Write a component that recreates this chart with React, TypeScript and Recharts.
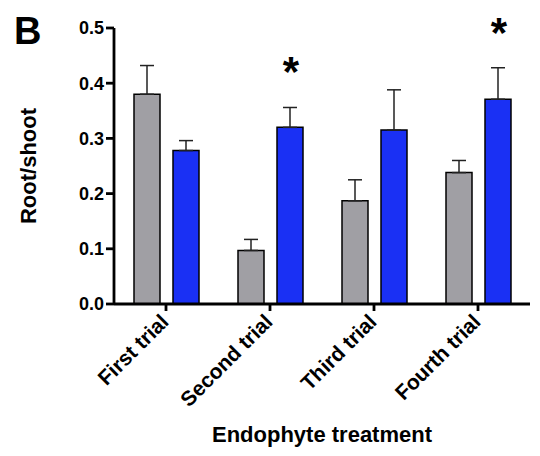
import { BarChart, Bar, XAxis, YAxis, ErrorBar, LabelList } from "recharts";

const trials = ["First trial", "Second trial", "Third trial", "Fourth trial"];
const controlMean = [0.38, 0.097, 0.187, 0.238];
const controlSem = [0.052, 0.02, 0.038, 0.022];
const endophyteMean = [0.278, 0.32, 0.315, 0.371];
const endophyteSem = [0.018, 0.036, 0.073, 0.057];
const significance = ["", "*", "", "*"];
const yTicks = [0, 0.1, 0.2, 0.3, 0.4, 0.5];

const data = trials.map((t, i) => ({
  trial: t,
  control: controlMean[i],
  controlErr: [0, controlSem[i]],
  endophyte: endophyteMean[i],
  endophyteErr: [0, endophyteSem[i]],
  star: significance[i],
}));

const FONT = "'Liberation Sans', Arial, sans-serif";

const XTick = ({ x, y, payload }: any) => (
  <g transform={`translate(${x + 4},${y + 10}) rotate(-45)`}>
    <text
      x={0}
      y={0}
      textAnchor="end"
      fontFamily={FONT}
      fontWeight="bold"
      fontSize={21}
      fill="#000"
    >
      {payload.value}
    </text>
  </g>
);

// star sits a bit above the top of the error bar
const StarLabel = (props: any) => {
  const { x, y, width, height, index } = props;
  const mark = significance[index];
  if (!mark) return null;
  const pxPerUnit = height / endophyteMean[index];
  const top = y - endophyteSem[index] * pxPerUnit;
  return (
    <text
      x={x + width / 2 + 1}
      y={top - 21}
      textAnchor="middle"
      fontFamily={FONT}
      fontWeight="bold"
      fontSize={42}
      fill="#000"
    >
      {mark}
    </text>
  );
};

export default function App() {
  return (
    <div style={{ position: "absolute", left: 0, top: 0, width: 540, height: 456, background: "#fff" }}>
      <div
        style={{
          position: "absolute",
          left: 14,
          top: 6,
          fontFamily: FONT,
          fontWeight: "bold",
          fontSize: 38,
          lineHeight: "50px",
        }}
      >
        B
      </div>
      <BarChart
        width={540}
        height={456}
        data={data}
        margin={{ top: 28, right: 10, left: 0, bottom: 0 }}
        barSize={26}
        barGap={13}
      >
        <YAxis
          width={114}
          domain={[0, 0.5]}
          ticks={yTicks}
          tickFormatter={(v: number) => v.toFixed(1)}
          axisLine={{ stroke: "#000", strokeWidth: 2.8 }}
          tickLine={{ stroke: "#000", strokeWidth: 2.8 }}
          tickSize={8}
          tickMargin={2}
          tick={{ fill: "#000", fontFamily: FONT, fontWeight: "bold", fontSize: 18 }}
          label={{
            content: () => (
              <text
                transform="translate(36,166) rotate(-90)"
                textAnchor="middle"
                fontFamily={FONT}
                fontWeight="bold"
                fontSize={22}
                fill="#000"
              >
                Root/shoot
              </text>
            ),
          }}
        />
        <XAxis
          dataKey="trial"
          height={152}
          interval={0}
          axisLine={{ stroke: "#000", strokeWidth: 2.8 }}
          tickLine={{ stroke: "#000", strokeWidth: 2.8 }}
          tickSize={7}
          tickMargin={2}
          tick={<XTick />}
          label={{
            value: "Endophyte treatment",
            position: "insideBottom",
            offset: 14,
            fill: "#000",
            fontFamily: FONT,
            fontWeight: "bold",
            fontSize: 22,
          }}
        />
        <Bar dataKey="control" fill="#a09fa4" stroke="#000" strokeWidth={1.5} isAnimationActive={false}>
          <ErrorBar dataKey="controlErr" width={7} stroke="#222" strokeWidth={1.5} direction="y" />
        </Bar>
        <Bar dataKey="endophyte" fill="#1a30f4" stroke="#000" strokeWidth={1.5} isAnimationActive={false}>
          <ErrorBar dataKey="endophyteErr" width={7} stroke="#222" strokeWidth={1.5} direction="y" />
          <LabelList dataKey="star" content={<StarLabel />} />
        </Bar>
      </BarChart>
    </div>
  );
}
